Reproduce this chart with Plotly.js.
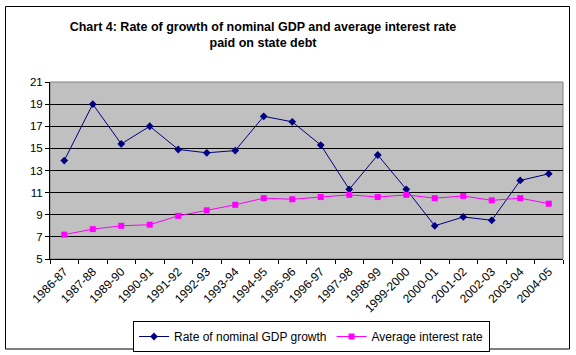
<!DOCTYPE html>
<html>
<head>
<meta charset="utf-8">
<script src="https://cdn.plot.ly/plotly-3.0.1.min.js"></script>
<style>
html,body{margin:0;padding:0;background:#fff;}
#chart{width:576px;height:355px;}
</style>
</head>
<body>
<div id="chart"></div>
<script>
const years = ["1986-87","1987-88","1989-90","1990-91","1991-92","1992-93","1993-94","1994-95","1995-96","1996-97","1997-98","1998-99","1999-2000","2000-01","2001-02","2002-03","2003-04","2004-05"];
const gdpGrowth = [13.9, 19.0, 15.4, 17.0, 14.9, 14.6, 14.8, 17.9, 17.4, 15.3, 11.3, 14.4, 11.3, 8.0, 8.8, 8.5, 12.1, 12.7];
const interestRate = [7.2, 7.7, 8.0, 8.1, 8.9, 9.4, 9.9, 10.5, 10.4, 10.6, 10.8, 10.6, 10.8, 10.5, 10.7, 10.3, 10.5, 10.0];
const yTicks = [5, 7, 9, 11, 13, 15, 17, 19, 21];

const L = 50, R = 13, T = 82, B = 96, W = 576, H = 355;
const pw = W - L - R, ph = H - T - B;
function px2x(p){ return (p - L) / pw; }
function py2y(p){ return (H - B - p) / ph; }

const traces = [
  {x: years, y: gdpGrowth, name: "Rate of nominal GDP growth", type: "scatter", mode: "lines+markers",
   line: {color: "#000080", width: 1}, marker: {symbol: "diamond", size: 6, color: "#000080"}},
  {x: years, y: interestRate, name: "Average interest rate", type: "scatter", mode: "lines+markers",
   line: {color: "#FF00FF", width: 1}, marker: {symbol: "square", size: 6, color: "#FF00FF"}}
];

const layout = {
  width: W, height: H,
  margin: {l: L, r: R, t: T, b: B, autoexpand: false},
  paper_bgcolor: "#FFFFFF",
  plot_bgcolor: "#C0C0C0",
  font: {family: "Arial, 'Liberation Sans', sans-serif", color: "#000", size: 11},
  title: {text: "<b>Chart 4: Rate of growth of nominal GDP and average interest rate<br>paid on state debt</b>",
          font: {family: "'Liberation Sans Narrow', 'Arial Narrow', Arial, sans-serif", size: 12.5, color: "#000"},
          x: px2x(263), xanchor: "center", xref: "paper", y: (H - 31) / H, yanchor: "top", yref: "container",
          pad: {t: 0, b: 0}},
  xaxis: {type: "category", tickangle: -45, tickson: "boundaries", ticks: "outside", ticklen: 4, tickcolor: "#000",
          showgrid: false, showline: true, linecolor: "#000", linewidth: 1, zeroline: false,
          tickfont: {size: 12, family: "Arial, 'Liberation Sans', sans-serif"}, fixedrange: true,
          range: [-0.5, years.length - 0.5]},
  yaxis: {range: [5, 21], tickvals: yTicks, ticks: "outside", ticklen: 4, tickcolor: "#000",
          showgrid: true, gridcolor: "#000", gridwidth: 1, showline: true, linecolor: "#000", linewidth: 1,
          zeroline: false, tickfont: {size: 11.5}, fixedrange: true},
  showlegend: true,
  legend: {orientation: "h", x: px2x(133), xanchor: "left", y: py2y(321), yanchor: "top",
           bordercolor: "#000", borderwidth: 1, bgcolor: "#fff", font: {size: 12},
           itemwidth: 30, tracegroupgap: 0},
  shapes: [
    {type: "rect", xref: "paper", yref: "paper", x0: 0, x1: 1, y0: 0, y1: 1,
     line: {color: "#808080", width: 1}, fillcolor: "rgba(0,0,0,0)", layer: "below"},
    {type: "rect", xref: "paper", yref: "paper", x0: px2x(5.5), x1: px2x(569.5), y0: py2y(349), y1: py2y(6.5),
     line: {color: "#000", width: 1}, fillcolor: "rgba(0,0,0,0)"}
  ]
};

Plotly.newPlot("chart", traces, layout, {displayModeBar: false, staticPlot: true});
</script>
</body>
</html>
